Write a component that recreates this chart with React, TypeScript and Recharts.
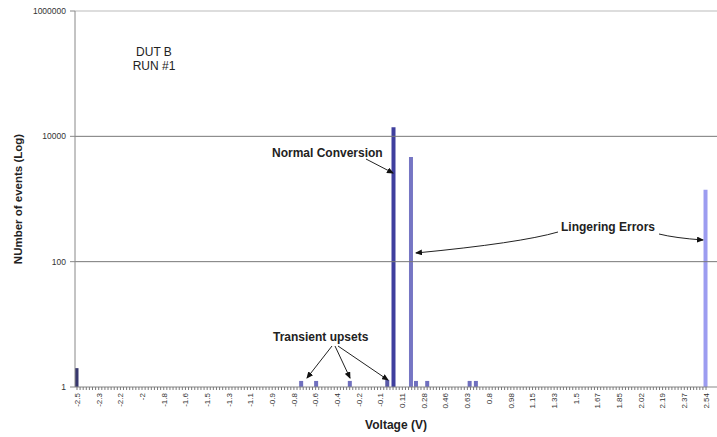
import { BarChart, Bar, XAxis, YAxis, Cell, ReferenceLine } from 'recharts';

// Voltage bins that recorded events, and the event count in each
const volts = [-2.5, -0.7, -0.58, -0.31, -0.01, 0.04, 0.18, 0.22, 0.31, 0.65, 0.7, 2.54];
const events = [2, 1.25, 1.25, 1.25, 1.3, 14000, 4700, 1.25, 1.25, 1.25, 1.25, 1400];

// Category label positions (V) and the text Excel showed for them
const tickVolts = [
  -2.5, -2.326, -2.152, -1.979, -1.805, -1.631, -1.457, -1.283, -1.11, -0.936,
  -0.762, -0.588, -0.414, -0.241, -0.067, 0.107, 0.281, 0.454, 0.628, 0.802,
  0.976, 1.15, 1.323, 1.497, 1.671, 1.845, 2.019, 2.192, 2.366, 2.54,
];
const tickLabels = [
  '-2.5', '-2.3', '-2.2', '-2', '-1.8', '-1.6', '-1.5', '-1.3', '-1.1', '-0.9',
  '-0.8', '-0.6', '-0.4', '-0.2', '-0.1', '0.11', '0.28', '0.46', '0.63', '0.8',
  '0.98', '1.15', '1.33', '1.5', '1.67', '1.85', '2.02', '2.19', '2.37', '2.54',
];
const yTicks = [1, 100, 10000, 1000000];

const barShade = [
  '#38386e', '#6f6fbf', '#6f6fbf', '#6f6fbf', '#5a5aa8', '#3f3f9e',
  '#7676c4', '#6f6fbf', '#6f6fbf', '#6f6fbf', '#6f6fbf', '#9c9cf0',
];

const data = volts.map((v, i) => ({ v, events: events[i] }));

// every category gets a small tick mark; only every 7th carries a label
const allTicks = tickVolts.flatMap((v, i) => {
  if (i === tickVolts.length - 1) return [v];
  const step = (tickVolts[i + 1] - v) / 7;
  return Array.from({ length: 7 }, (_, k) => v + k * step);
});

const labelFont = '"Liberation Sans", Arial, sans-serif';

const VoltTick = ({ x, y, payload }: any) => {
  const idx = tickVolts.findIndex((t) => Math.abs(t - payload.value) < 1e-6);
  return (
    <g>
      <line x1={x} x2={x} y1={y} y2={y + 3} stroke="#777" strokeWidth={1} />
      {idx >= 0 && (
        <text
          x={x}
          y={y + 6}
          transform={`rotate(-90 ${x} ${y + 6})`}
          textAnchor="end"
          dy="0.35em"
          fontSize={8}
          fontFamily={labelFont}
          fill="#333"
        >
          {tickLabels[idx]}
        </text>
      )}
    </g>
  );
};

function Annotations() {
  const txt = { fontFamily: labelFont, fontSize: 12, fill: '#222' };
  return (
    <svg
      width={717}
      height={437}
      style={{ position: 'absolute', left: 0, top: 0, pointerEvents: 'none' }}
    >
      <defs>
        <marker id="head" markerWidth="7" markerHeight="6" refX="6" refY="3" orient="auto" markerUnits="userSpaceOnUse">
          <path d="M0,0 L7,3 L0,6 Z" fill="#111" />
        </marker>
      </defs>
      <text x={154} y={56} textAnchor="middle" {...txt}>DUT B</text>
      <text x={154} y={70} textAnchor="middle" {...txt}>RUN #1</text>

      <text x={272} y={157} {...txt} fontWeight="bold">Normal Conversion</text>
      <path d="M366,159 L393,173" stroke="#222" fill="none" markerEnd="url(#head)" />

      <text x={561} y={231} {...txt} fontWeight="bold">Lingering Errors</text>
      <path d="M558,232 Q520,243 416,253" stroke="#222" fill="none" markerEnd="url(#head)" />
      <path d="M659,234 Q675,238 703,240" stroke="#222" fill="none" markerEnd="url(#head)" />

      <text x={273} y={341} {...txt} fontWeight="bold">Transient upsets</text>
      <path d="M332,346 L307,378" stroke="#222" fill="none" markerEnd="url(#head)" />
      <path d="M335,346 L350,378" stroke="#222" fill="none" markerEnd="url(#head)" />
      <path d="M338,346 L388,380" stroke="#222" fill="none" markerEnd="url(#head)" />
    </svg>
  );
}

export default function App() {
  return (
    <div style={{ position: 'absolute', left: 0, top: 0, width: 717, height: 437, background: '#fff' }}>
      <BarChart width={717} height={437} data={data} margin={{ top: 11, right: 0, bottom: 0, left: 0 }}>
        <XAxis
          dataKey="v"
          type="number"
          domain={[-2.516, 2.628]}
          ticks={allTicks}
          interval={0}
          tick={<VoltTick />}
          tickLine={false}
          tickSize={0}
          tickMargin={0}
          axisLine={{ stroke: '#888' }}
          height={50}
          allowDataOverflow
          label={{
            value: 'Voltage (V)',
            position: 'insideBottom',
            offset: 8,
            style: { fontFamily: labelFont, fontSize: 12, fontWeight: 'bold', fill: '#222' },
          }}
        />
        <YAxis
          type="number"
          scale="log"
          domain={[1, 1000000]}
          ticks={yTicks}
          interval={0}
          allowDataOverflow
          width={75}
          tickSize={5}
          tickMargin={4}
          tickLine={{ stroke: '#888' }}
          axisLine={{ stroke: '#888' }}
          tickFormatter={(t: number) => String(t)}
          tick={{ fontSize: 8.5, fontFamily: labelFont, fill: '#333' }}
          label={{
            value: 'NUmber of events (Log)',
            angle: -90,
            position: 'insideLeft',
            offset: 18,
            style: { textAnchor: 'middle', fontFamily: labelFont, fontSize: 11.5, fontWeight: 'bold', fill: '#222' },
          }}
        />
        <ReferenceLine y={1000000} stroke="#bbb" />
        <ReferenceLine y={10000} stroke="#777" />
        <ReferenceLine y={100} stroke="#777" />
        <Bar dataKey="events" barSize={4} isAnimationActive={false}>
          {data.map((d, i) => (
            <Cell key={`bin-${d.v}`} fill={barShade[i]} />
          ))}
        </Bar>
      </BarChart>
      <Annotations />
    </div>
  );
}
